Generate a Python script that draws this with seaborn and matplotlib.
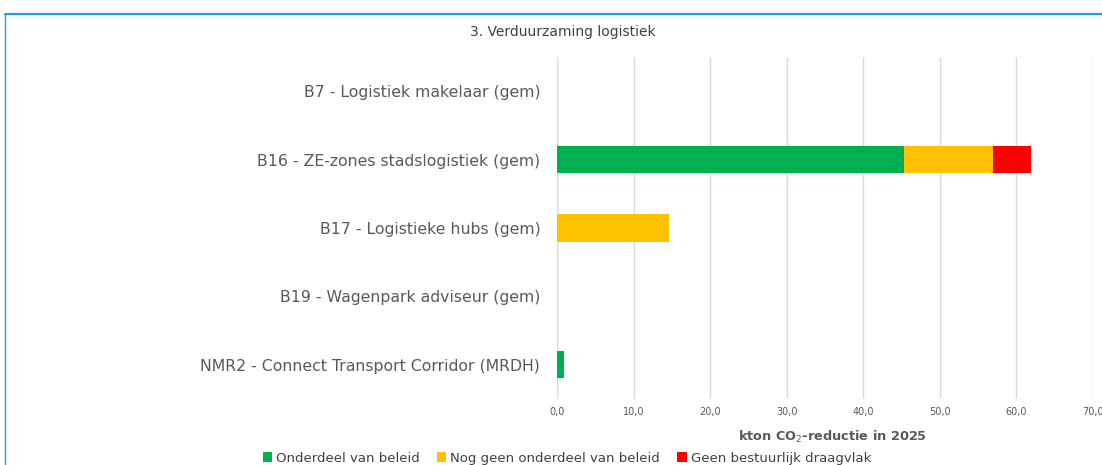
import matplotlib
matplotlib.use("Agg")
import matplotlib.pyplot as plt
import seaborn as sns
import numpy as np
import pandas as pd
from matplotlib.patches import Patch
from matplotlib.lines import Line2D

categories = [
    "B7 - Logistiek makelaar (gem)",
    "B16 - ZE-zones stadslogistiek (gem)",
    "B17 - Logistieke hubs (gem)",
    "B19 - Wagenpark adviseur (gem)",
    "NMR2 - Connect Transport Corridor (MRDH)",
]
onderdeel = [0.0, 45.3, 0.0, 0.0, 0.9]
nog_geen = [0.0, 11.6, 14.6, 0.0, 0.0]
geen_draagvlak = [0.0, 5.0, 0.0, 0.0, 0.0]
series_names = ["Onderdeel van beleid", "Nog geen onderdeel van beleid", "Geen bestuurlijk draagvlak"]
colors = ["#00B050", "#FFC000", "#FF0000"]
xticks = [0, 10, 20, 30, 40, 50, 60, 70]
xtick_labels = ["0,0", "10,0", "20,0", "30,0", "40,0", "50,0", "60,0", "70,0"]

sns.set_theme(style="white")
plt.rcParams["font.family"] = ["DejaVu Sans"]

fig = plt.figure(figsize=(11.02, 4.65), dpi=100)
ax = fig.add_axes([557/1102, 1-399/465, (1093-557)/1102, (399-57)/465])

c1 = np.array(onderdeel)
c2 = c1 + np.array(nog_geen)
c3 = c2 + np.array(geen_draagvlak)
for vals, col in zip([c3, c2, c1], [colors[2], colors[1], colors[0]]):
    df = pd.DataFrame({"cat": categories, "val": vals})
    sns.barplot(data=df, x="val", y="cat", orient="h", color=col,
                width=0.4, ax=ax, saturation=1, linewidth=0)

ax.set_xlim(0, 70)
ax.set_ylim(4.5, -0.5)
ax.set_xticks(xticks)
ax.set_xticklabels(xtick_labels, fontsize=7, color="#595959")
ax.tick_params(axis="x", length=0, pad=6)
ax.tick_params(axis="y", length=0, pad=12, labelsize=11.3, labelcolor="#595959")
ax.set_ylabel("")
ax.set_xlabel("kton CO$_2$-reductie in 2025", fontsize=9.3, fontweight="bold",
              color="#595959")
ax.xaxis.set_label_coords((832-557)/(1093-557), -(429-399)/(399-57))
ax.grid(axis="x", color="#D9D9D9", linewidth=1)
ax.set_axisbelow(True)
for s in ax.spines.values():
    s.set_visible(False)
ax.axvline(0, color="#D9D9D9", linewidth=1, zorder=0)

fig.text(563/1102, 1-32/465, "3. Verduurzaming logistiek", ha="center", va="center",
         fontsize=10, color="#404040")

# blue frame
fig.add_artist(Line2D([5/1102, 1], [1-14/465, 1-14/465], color="#1BA1E2", linewidth=1.5))
fig.add_artist(Line2D([5/1102, 5/1102], [0, 1-14/465], color="#1BA1E2", linewidth=1.0))

handles = [Patch(facecolor=c, edgecolor="none") for c in colors]
fig.legend(handles, series_names, loc="center", bbox_to_anchor=(567/1102, 1-458/465),
           ncol=3, frameon=False, fontsize=9.5, handlelength=0.7, handleheight=0.7,
           handletextpad=0.3, columnspacing=1.3, labelcolor="#404040",
           borderpad=0)

fig.savefig("out.png", dpi=100)
